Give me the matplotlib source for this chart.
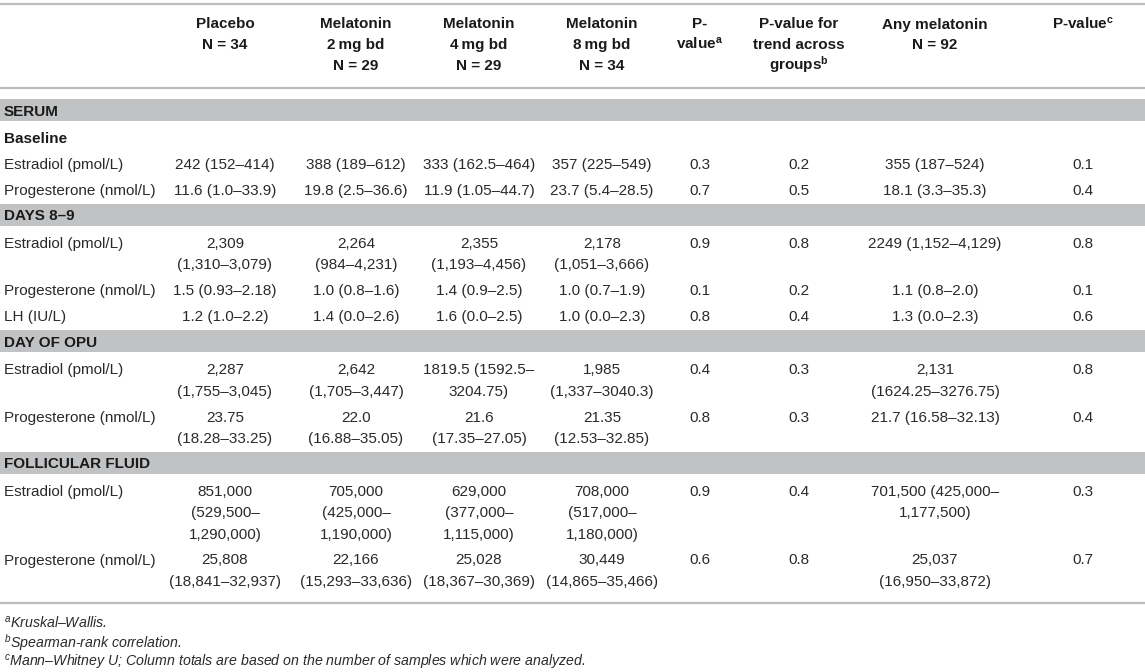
import matplotlib
matplotlib.use("Agg")
import matplotlib.pyplot as plt

plt.rcParams['font.family'] = ['Liberation Sans', 'DejaVu Sans']
plt.rcParams['mathtext.fontset'] = 'custom'
plt.rcParams['mathtext.rm'] = 'Liberation Sans'
plt.rcParams['mathtext.it'] = 'Liberation Sans:italic'
plt.rcParams['mathtext.bf'] = 'Liberation Sans:bold'
plt.rcParams['mathtext.default'] = 'regular'

# cabeçalho das colunas
headers = ["Placebo\nN = 34",
           "Melatonin\n2\u2009mg bd\nN = 29",
           "Melatonin\n4\u2009mg bd\nN = 29",
           "Melatonin\n8\u2009mg bd\nN = 34",
           "P-\nvalue$^{\\mathbf{a}}$",
           "P-value for\ntrend across\ngroups$^{\\mathbf{b}}$",
           "Any melatonin\nN = 92",
           "P-value$^{\\mathbf{c}}$"]

sections = ["SERUM", "DAYS 8–9", "DAY OF OPU", "FOLLICULAR FLUID"]
subheader = "Baseline"  # só na primeira seção

row_labels = ["Estradiol (pmol/L)", "Progesterone (nmol/L)",
              "Estradiol (pmol/L)", "Progesterone (nmol/L)", "LH (IU/L)",
              "Estradiol (pmol/L)", "Progesterone (nmol/L)",
              "Estradiol (pmol/L)", "Progesterone (nmol/L)"]
row_section = [0, 0, 1, 1, 1, 2, 2, 3, 3]

placebo = ["242 (152–414)", "11.6 (1.0–33.9)",
           "2,309\n(1,310–3,079)", "1.5 (0.93–2.18)", "1.2 (1.0–2.2)",
           "2,287\n(1,755–3,045)", "23.75\n(18.28–33.25)",
           "851,000\n(529,500–\n1,290,000)", "25,808\n(18,841–32,937)"]
mel_2mg = ["388 (189–612)", "19.8 (2.5–36.6)",
           "2,264\n(984–4,231)", "1.0 (0.8–1.6)", "1.4 (0.0–2.6)",
           "2,642\n(1,705–3,447)", "22.0\n(16.88–35.05)",
           "705,000\n(425,000–\n1,190,000)", "22,166\n(15,293–33,636)"]
mel_4mg = ["333 (162.5–464)", "11.9 (1.05–44.7)",
           "2,355\n(1,193–4,456)", "1.4 (0.9–2.5)", "1.6 (0.0–2.5)",
           "1819.5 (1592.5–\n3204.75)", "21.6\n(17.35–27.05)",
           "629,000\n(377,000–\n1,115,000)", "25,028\n(18,367–30,369)"]
mel_8mg = ["357 (225–549)", "23.7 (5.4–28.5)",
           "2,178\n(1,051–3,666)", "1.0 (0.7–1.9)", "1.0 (0.0–2.3)",
           "1,985\n(1,337–3040.3)", "21.35\n(12.53–32.85)",
           "708,000\n(517,000–\n1,180,000)", "30,449\n(14,865–35,466)"]
p_kruskal = ["0.3", "0.7", "0.9", "0.1", "0.8", "0.4", "0.8", "0.9", "0.6"]
p_trend = ["0.2", "0.5", "0.8", "0.2", "0.4", "0.3", "0.3", "0.4", "0.8"]
any_mel = ["355 (187–524)", "18.1 (3.3–35.3)",
           "2249 (1,152–4,129)", "1.1 (0.8–2.0)", "1.3 (0.0–2.3)",
           "2,131\n(1624.25–3276.75)", "21.7 (16.58–32.13)",
           "701,500 (425,000–\n1,177,500)", "25,037\n(16,950–33,872)"]
p_mann = ["0.1", "0.4", "0.8", "0.1", "0.6", "0.8", "0.4", "0.3", "0.7"]

footnotes = ["$^{a}$Kruskal–Wallis.",
             "$^{b}$Spearman-rank correlation.",
             "$^{c}$Mann–Whitney U; Column totals are based on the number of samples which were analyzed."]

columns = [placebo, mel_2mg, mel_4mg, mel_8mg, p_kruskal, p_trend, any_mel, p_mann]
col_x = [225, 356, 479, 602, 700, 799, 935, 1083]

W, H = 1145, 672
fig = plt.figure(figsize=(W / 100, H / 100), dpi=100)
ax = fig.add_axes([0, 0, 1, 1])
ax.set_xlim(0, W)
ax.set_ylim(H, 0)
ax.axis('off')

FS = 11
rule_color = '#bcbcbc'
band_color = '#c1c2c4'
txt_color = '#2a2a2a'
dy_base = 5.5      # centro -> linha de base
line_h = 21.3


def put(x, y, s, ha='center', **kw):
    ax.text(x, y + dy_base, s, ha=ha, va='baseline', fontsize=FS,
            color=kw.pop('color', txt_color), **kw)


# linhas do cabeçalho
ax.axhline(4, color=rule_color, lw=1.6)
for x, h in zip(col_x, headers):
    for k, line in enumerate(h.split('\n')):
        put(x, 23 + k * 20.5, line, fontweight='bold', color='#1a1a1a')
ax.axhline(88, color=rule_color, lw=1.6)

y = 99
for si, sec in enumerate(sections):
    if si > 0:
        y += 5
    ax.axhspan(y, y + 22, color=band_color, lw=0)
    put(4, y + 11, sec, ha='left', fontweight='bold', color='#1a1a1a')
    y += 22
    if si == 0:
        put(4, y + 16.5, subheader, ha='left', fontweight='bold', color='#1a1a1a')
        y += 26
    for i in range(len(row_labels)):
        if row_section[i] != si:
            continue
        put(4, y + 16.5, row_labels[i], ha='left')
        n = 1
        for x, col in zip(col_x, columns):
            lines = col[i].split('\n')
            n = max(n, len(lines))
            for k, line in enumerate(lines):
                put(x, y + 16.5 + k * line_h, line)
        y += 26 + line_h * (n - 1)

ax.axhline(603, color=rule_color, lw=1.6)

for k, note in enumerate(footnotes):
    ax.text(4, 623 + k * 19.5 + 5, note, ha='left', va='baseline',
            fontsize=10.2, fontstyle='italic', color=txt_color)

fig.savefig('out.png', dpi=100)
